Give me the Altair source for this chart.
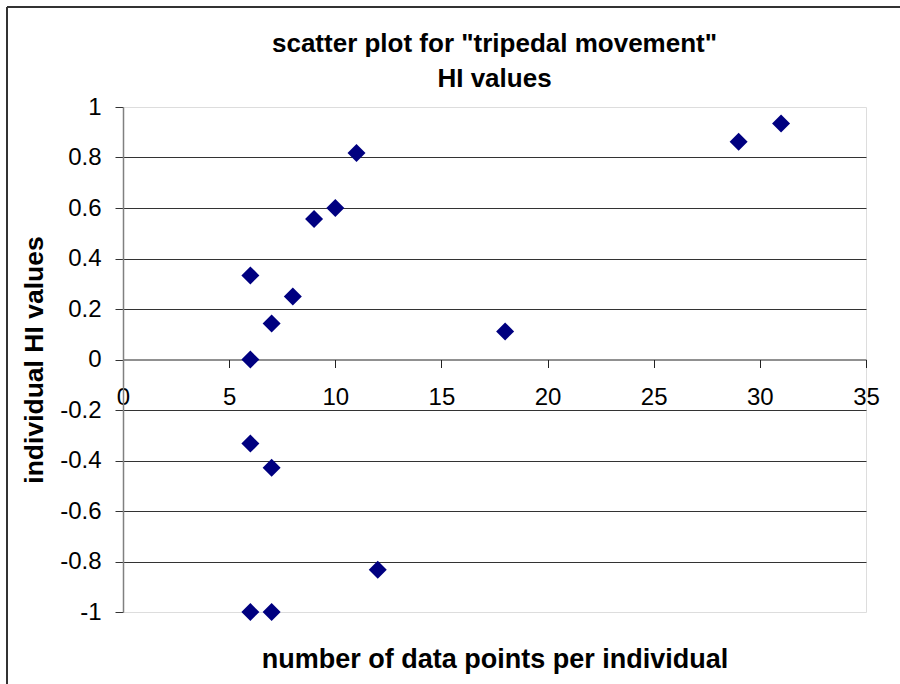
import altair as alt
import pandas as pd

# Per-individual HI values against the number of data points behind each one
n_points = [6, 6, 7, 8, 9, 10, 11, 18, 29, 31, 6, 7, 12, 6, 7]
hi_values = [0.333, 0.0, 0.143, 0.25, 0.556, 0.6, 0.818, 0.111, 0.862, 0.935,
             -0.333, -0.429, -0.833, -1.0, -1.0]

x_ticks = [0, 5, 10, 15, 20, 25, 30, 35]
y_ticks = [1, 0.8, 0.6, 0.4, 0.2, 0, -0.2, -0.4, -0.6, -0.8, -1]

FONT = "Liberation Sans"
W, H = 743, 505
PAD = {"left": 123, "top": 107, "right": 34, "bottom": 72}

df = pd.DataFrame({"n": n_points, "hi": hi_values})

points = alt.Chart(df).mark_point(
    shape="diamond", filled=True, size=324, color="#000080", opacity=1
).encode(
    x=alt.X(
        "n:Q",
        scale=alt.Scale(domain=[0, 35], nice=False, zero=False),
        axis=alt.Axis(
            values=x_ticks,
            offset=-H / 2,
            grid=False,
            domainColor="#222222",
            domainWidth=1,
            tickColor="#222222",
            tickSize=8,
            labelFont=FONT,
            labelFontSize=24,
            labelColor="#000000",
            labelPadding=18,
            labelFlush=False,
            title="number of data points per individual",
            titleFont=FONT,
            titleFontSize=27,
            titleFontWeight="bold",
            titleColor="#000000",
            titleX=W / 2,
            titleY=300,
            titleAlign="center",
            titleBaseline="middle",
        ),
    ),
    y=alt.Y(
        "hi:Q",
        scale=alt.Scale(domain=[-1, 1], nice=False, zero=False),
        axis=alt.Axis(
            values=y_ticks,
            labelExpr="'' + round(datum.value * 10) / 10",
            grid=True,
            gridColor="#333333",
            gridWidth=1,
            gridOpacity=alt.condition(
                "abs(datum.value) > 0.9 || datum.value == 0", alt.value(0), alt.value(1)
            ),
            domainColor="#808080",
            domainWidth=1.5,
            tickColor="#333333",
            tickSize=8,
            labelFont=FONT,
            labelFontSize=24,
            labelColor="#000000",
            labelPadding=14,
            labelFlush=False,
            title="individual HI values",
            titleFont=FONT,
            titleFontSize=26.5,
            titleFontWeight="bold",
            titleColor="#000000",
            titleAngle=270,
            titleX=-89,
            titleY=H / 2,
            titleAlign="center",
            titleBaseline="middle",
        ),
    ),
)

# outer frame of the chart (left and top edges)
frame_src = pd.DataFrame({"k": [0]})
frame_left = alt.Chart(frame_src).mark_rule(color="#333333", strokeWidth=2).encode(
    x=alt.value(-116), y=alt.value(-100), y2=alt.value(H + 100)
)
frame_top = alt.Chart(frame_src).mark_rule(color="#333333", strokeWidth=2).encode(
    y=alt.value(-100), x=alt.value(-116), x2=alt.value(W + 100)
)

chart = alt.layer(points, frame_left, frame_top).properties(
    width=W,
    height=H,
    padding=PAD,
    autosize=alt.AutoSizeParams(type="none"),
    title=alt.Title(
        text=['scatter plot for "tripedal movement"', "HI values"],
        font=FONT,
        fontSize=26,
        fontWeight="bold",
        color="#000000",
        anchor="middle",
        lineHeight=35,
        offset=0,
        dy=86,
    ),
).configure_view(stroke=None).configure(background="white")

chart.save("out.html", embed_options={"renderer": "svg", "actions": False})
